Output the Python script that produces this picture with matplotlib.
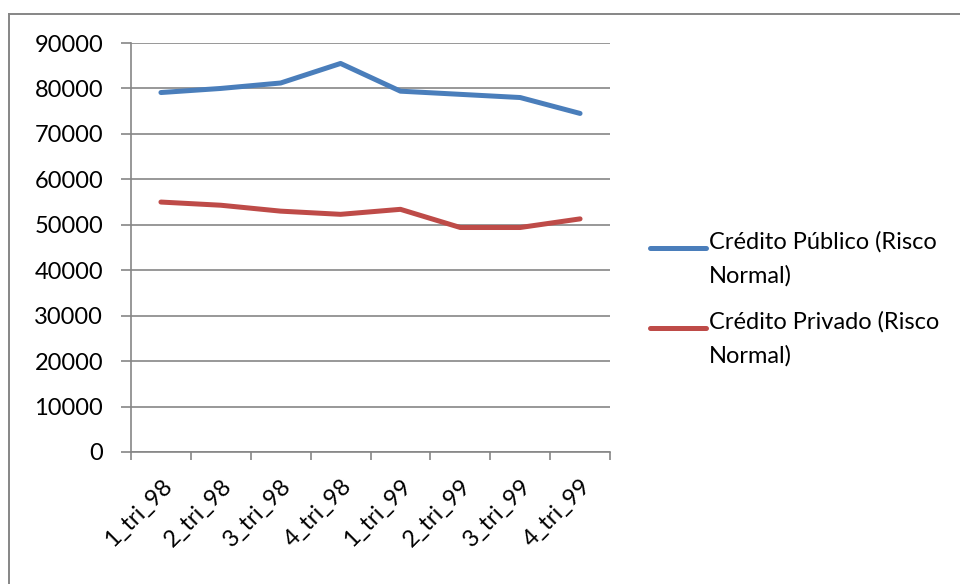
import matplotlib.pyplot as plt
from matplotlib.lines import Line2D
import numpy as np

periodos = ['1_tri_98', '2_tri_98', '3_tri_98', '4_tri_98',
            '1_tri_99', '2_tri_99', '3_tri_99', '4_tri_99']
credito_publico = [79100, 80000, 81200, 85500, 79400, 78700, 78000, 74500]
credito_privado = [55000, 54300, 53000, 52300, 53400, 49400, 49400, 51300]
nomes = ['Crédito Público (Risco\nNormal)', 'Crédito Privado (Risco\nNormal)']
cores = ['#4A7EBB', '#BE4B48']

plt.rcParams['font.family'] = ['Lato', 'DejaVu Sans']
W, H = 960, 584
fig = plt.figure(figsize=(W/100, H/100), dpi=100)

# moldura: so borda esquerda e superior aparecem
borda = dict(transform=fig.transFigure, color='#868686', lw=1.4)
fig.add_artist(Line2D([9/W, 9/W], [0, 1 - 14/H], **borda))
fig.add_artist(Line2D([9/W, 1], [1 - 14/H, 1 - 14/H], **borda))

ax = fig.add_axes([131/W, (H-452)/H, (610-131)/W, (452-43)/H])
x = np.arange(len(periodos))
for serie, cor in zip([credito_publico, credito_privado], cores):
    ax.plot(x, serie, color=cor, lw=3.6, solid_capstyle='round', solid_joinstyle='round')

ax.set_xlim(-0.5, len(periodos) - 0.5)
ax.set_ylim(0, 90000)
ax.set_yticks(np.arange(0, 90001, 10000))
ax.set_yticklabels([str(v) for v in range(0, 90001, 10000)], fontsize=17)
ax.grid(axis='y', color='#868686', lw=1.2)
ax.set_axisbelow(True)
for lado in ['top', 'right']:
    ax.spines[lado].set_visible(False)
for lado in ['left', 'bottom']:
    ax.spines[lado].set_color('#868686')
    ax.spines[lado].set_linewidth(1.2)
ax.tick_params(axis='y', length=7, width=1.2, color='#868686', pad=13)

ax.set_xticks(x)
ax.set_xticklabels(periodos, rotation=45, ha='right', rotation_mode='anchor', fontsize=17)
ax.tick_params(axis='x', which='major', length=0, pad=17)
ax.set_xticks(np.arange(-0.5, len(periodos)), minor=True)
ax.tick_params(axis='x', which='minor', length=6, width=1.2, color='#868686', direction='out')

# legenda desenhada a mao
for i, (nome, cor) in enumerate(zip(nomes, cores)):
    yl = 248 + i * 80
    fig.add_artist(Line2D([650/W, 706/W], [1 - yl/H, 1 - yl/H], transform=fig.transFigure,
                          color=cor, lw=3.6, solid_capstyle='round'))
    fig.text(709/W, 1 - (yl - 17)/H, nome, fontsize=17, va='top', ha='left', linespacing=1.72)

fig.savefig('out.png', dpi=100)
